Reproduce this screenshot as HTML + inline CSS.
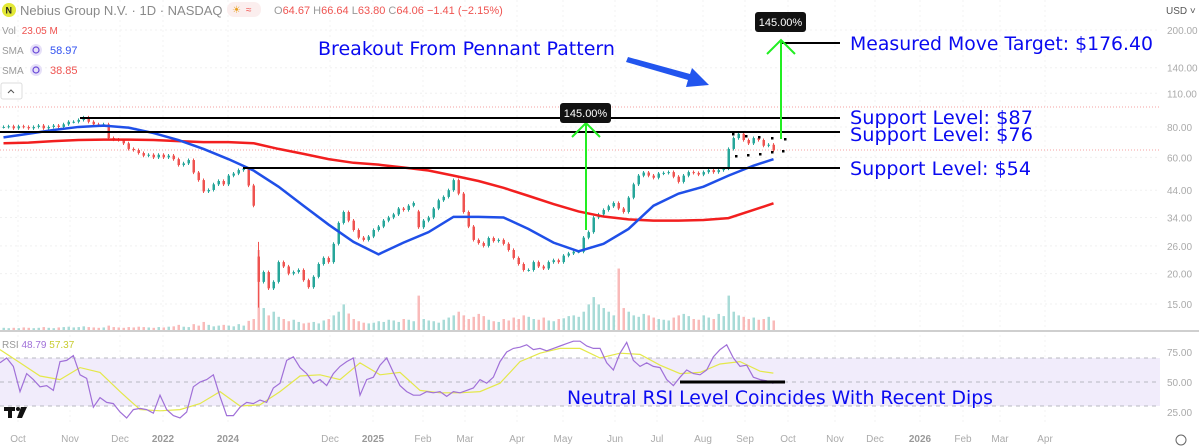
<!DOCTYPE html>
<html><head><meta charset="utf-8">
<style>
html,body{margin:0;padding:0;background:#fff;}
body{width:1199px;height:448px;overflow:hidden;font-family:"Liberation Sans",sans-serif;}
svg{display:block;}
</style></head>
<body>
<svg id="chart" width="1199" height="448" viewBox="0 0 1199 448" xmlns="http://www.w3.org/2000/svg">
  <g id="grid"></g>
  <rect x="0" y="358" width="1160" height="48" fill="#f1ecfb"/>
  <line x1="0" y1="358" x2="1160" y2="358" stroke="#b8b8c0" stroke-dasharray="4,4"/>
  <line x1="0" y1="382" x2="1160" y2="382" stroke="#b8b8c0" stroke-dasharray="4,4"/>
  <line x1="0" y1="406" x2="1160" y2="406" stroke="#b8b8c0" stroke-dasharray="4,4"/>
  <line x1="0" y1="331" x2="1199" y2="331" stroke="#cfcfcf" stroke-width="2"/>
  <line x1="0" y1="107" x2="1160" y2="107" stroke="#f4a0a0" stroke-dasharray="1,2"/>
  <line x1="0" y1="150" x2="1160" y2="150" stroke="#f4a0a0" stroke-dasharray="1,2"/>
  <g id="volume"></g>
  <g id="candles"></g>
  <polyline id="sma200" fill="none" stroke="#f21f1f" stroke-width="2.5"/>
  <polyline id="sma50" fill="none" stroke="#1f4fe8" stroke-width="2.5"/>
  <polyline id="rsiMa" fill="none" stroke="#e4e84a" stroke-width="1.2"/>
  <polyline id="rsi" fill="none" stroke="#a070d8" stroke-width="1.2"/>

  <g stroke="#000" stroke-width="2">
    <line x1="80" y1="118" x2="840" y2="118"/>
    <line x1="0" y1="132" x2="840" y2="132"/>
    <line x1="243" y1="168" x2="840" y2="168"/>
    <line x1="781" y1="43" x2="840" y2="43"/>
    <line x1="680" y1="382" x2="785" y2="382" stroke-width="3"/>
  </g>
  <g stroke="#22ee22" stroke-width="2" fill="none">
    <line x1="586" y1="230" x2="586" y2="124"/>
    <polyline points="572,137 586,123 600,137"/>
  </g>
  <g stroke="#22ee22" stroke-width="2" fill="none">
    <line x1="781" y1="139" x2="781" y2="40"/>
    <polyline points="767,54 781,40 795,54"/>
  </g>
  <g>
    <rect x="560" y="103" width="51" height="20" rx="3" fill="#111"/>
    <text x="585.5" y="117" font-size="11" fill="#fff" text-anchor="middle">145.00%</text>
  </g>
  <g>
    <rect x="755" y="12" width="51" height="20" rx="3" fill="#111"/>
    <text x="780.5" y="26" font-size="11" fill="#fff" text-anchor="middle">145.00%</text>
  </g>
  <polygon points="628,57 690,74 692,68 709,85 686,87 688,80 626,62" fill="#2255ee"/>
  <g id="pennant" fill="#000"></g>

  <g font-family="'DejaVu Sans',sans-serif" fill="#0a0af0" font-size="19">
    <text x="318" y="55" textLength="297" lengthAdjust="spacingAndGlyphs">Breakout From Pennant Pattern</text>
    <text x="850" y="50" textLength="303" lengthAdjust="spacingAndGlyphs">Measured Move Target: $176.40</text>
    <text x="850" y="124" textLength="183" lengthAdjust="spacingAndGlyphs">Support Level: $87</text>
    <text x="850" y="141" textLength="183" lengthAdjust="spacingAndGlyphs">Support Level: $76</text>
    <text x="850" y="175" textLength="181" lengthAdjust="spacingAndGlyphs">Support Level: $54</text>
    <text x="567" y="404" textLength="426" lengthAdjust="spacingAndGlyphs">Neutral RSI Level Coincides With Recent Dips</text>
  </g>

  <circle cx="9" cy="10" r="7" fill="#e2e836"/>
  <text x="5.5" y="13.5" font-size="9" font-weight="bold" fill="#222">N</text>
  <text x="20" y="15" font-size="13" fill="#8a8a8a">Nebius Group N.V. · 1D · NASDAQ</text>
  <rect x="227" y="2" width="34" height="15" rx="7" fill="#fbeeee"/>
  <text x="232" y="13" font-size="10" fill="#e8a020">☀</text><text x="246" y="13" font-size="10" fill="#ef5350">≈</text>
  <text x="274" y="14" font-size="11" fill="#ef5350"><tspan fill="#999">O</tspan>64.67 <tspan fill="#999">H</tspan>66.64 <tspan fill="#999">L</tspan>63.80 <tspan fill="#999">C</tspan>64.06 −1.41 (−2.15%)</text>
  <text x="2" y="34" font-size="10" fill="#999">Vol <tspan fill="#ef5350" dx="3">23.05 M</tspan></text>
  <text x="2" y="54" font-size="10" fill="#999">SMA</text>
  <circle cx="36" cy="50" r="6" fill="#e6e0f8"/><circle cx="36" cy="50" r="3" fill="none" stroke="#6a4ad8" stroke-width="1.2"/>
  <text x="50" y="54" font-size="11" fill="#3050f0">58.97</text>
  <text x="2" y="74" font-size="10" fill="#999">SMA</text>
  <circle cx="36" cy="70" r="6" fill="#e6e0f8"/><circle cx="36" cy="70" r="3" fill="none" stroke="#6a4ad8" stroke-width="1.2"/>
  <text x="50" y="74" font-size="11" fill="#ef5350">38.85</text>
  <rect x="1" y="83" width="21" height="16" rx="2" fill="#fff" stroke="#ddd"/>
  <polyline points="8,93 11,90 14,93" fill="none" stroke="#555"/>
  <text x="2" y="348" font-size="10" fill="#999">RSI <tspan fill="#a070d8">48.79</tspan> <tspan fill="#c8cc30">57.37</tspan></text>
  <g fill="#111">
    <rect x="4" y="407" width="11" height="4"/><rect x="8" y="407" width="4" height="11"/><circle cx="18" cy="409" r="2"/><polygon points="21,407 27,407 22,418 17,418"/>
  </g>
  <text x="1166" y="14" font-size="10" fill="#555">USD ˅</text>
  <g id="yaxis" font-size="10" fill="#aaa"></g>
  <g id="xaxis" font-size="10" fill="#aaa"></g>
  <circle cx="1181" cy="440" r="5" fill="none" stroke="#666"/>
</svg>
<script>
const closes=[80,80.5,79,80.5,80,79,80,81,79,80,81,80,82,84,84,85.5,87.5,84,82,81.5,82,72,71,70.7,68.5,65,64.3,62.5,61,61.5,60,61.5,60,61,59,55.8,56.7,58.5,52,48.4,43.5,44.1,46.5,48,46.5,50.5,51.5,53.2,54,46,38,18.5,20.3,17.4,18.5,22.3,21.4,20,20.3,20.7,18.8,17.6,19.4,21.9,23.2,22.3,26.5,32.3,35.8,33,30.2,28.1,27.5,28.4,30.2,31.2,33,34,35,37,36.5,38,39,31,33,34,37,40,41.3,44,48.4,42.6,35.8,31.2,27.5,26.7,26,28,27.2,27.5,26.5,25,23.2,21.9,20.7,20.7,22.3,21.4,21,22.3,22.7,22.3,23.7,24.2,24.6,24.6,28.1,29.6,34,35,36.5,37.8,39,37,35.8,41,46.5,50.5,52,50.5,49.5,51.5,51.8,52.2,50,47.6,50.5,52.2,51.8,51,52.2,53.2,52.2,53.2,54,65,72,75,70.7,68.5,72,70.7,67,67.6,64.06];
const gapOpens={51:23.5,83:36};
const volumes=[6,5,6,5,7,6,5,6,8,6,5,7,8,9,7,8,10,8,7,6,7,12,8,7,6,8,7,9,8,7,6,8,7,9,10,14,9,8,16,12,22,14,10,12,14,12,10,16,12,25,30,
164,60,40,50,36,30,24,28,22,18,20,22,18,26,30,40,50,70,45,30,24,20,18,20,24,22,28,26,22,30,28,24,94,30,26,24,20,28,34,40,50,40,30,36,44,38,28,24,22,30,26,34,30,40,36,30,28,34,26,24,30,32,38,40,36,50,70,90,70,60,50,40,126,60,50,40,36,44,40,34,30,28,26,34,40,44,38,30,28,40,34,30,44,38,94,50,40,36,30,34,28,30,36,26];
const sma50=[72.5,75,77.7,80,81,79.5,75.5,70.7,65,59,53,45.5,38,31.8,27,24,26.8,29.6,34.2,34.2,34,30.5,26.8,24.7,26.5,30.5,38,42.6,45.5,50.5,55.5,58.97];
const sma200=[68.6,69,70,70.7,71,71,70.7,70,69.3,69.3,68.6,65,62,59,57,56,54.5,53,50.5,48,45,41.7,38.6,36,34.3,33.4,33,33,33.2,33.8,36.5,38.85];
const rsiVals=[66,70,63,42,57,52,46,47,43,67,68,72,56,53,29,37,33,32,25,20,27,28,27,24,39,27,22,20,25,46,50,52,56,38,22,22,29,33,32,35,33,45,49,68,71,62,57,49,52,47,57,63,67,70,39,52,54,64,70,58,47,42,39,39,42,41,42,38,42,41,43,45,52,49,54,67,75,78,79,81,77,78,76,78,80,82,84,84,80,78,78,66,60,74,83,68,63,66,63,62,52,47,54,60,57,56,60,71,77,81,70,63,64,54,52,51,48.79];
const rsiMaVals=[77,66,55,52,62,58,42,27,26,27,32,42,30,31,42,55,56,52,66,56,58,43,41,41,42,49,67,74,78,78,70,74,73,64,57,58,65,67,59,57.37];
const yTicks=[200,140,110,80,60,44,34,26,20,15];
const rsiTicks=[75,50,25];
const xLabels=["Oct","Nov","Dec","2022","2024","Dec","2025","Feb","Mar","Apr","May","Jun","Jul","Aug","Sep","Oct","Nov","Dec","2026","Feb","Mar","Apr"];
const xLabelPos=[18,70,120,163,228,330,373,423,465,517,563,615,657,703,745,788,835,875,920,963,1000,1045];

const NS="http://www.w3.org/2000/svg";
function yP(p){return 30+105.8*Math.log(200/p);}
function yR(v){return 382-(v-50)*1.2;}
function xC(i){return 2+i*5;}
function xR(i){return i*6.667;}
function mk(t,a,parent){const e=document.createElementNS(NS,t);for(const k in a)e.setAttribute(k,a[k]);parent.appendChild(e);return e;}
const G=document.getElementById('grid'),C=document.getElementById('candles'),V=document.getElementById('volume');
yTicks.forEach(t=>{const l=mk('line',{x1:0,x2:1160,y1:yP(t),y2:yP(t),stroke:'#f0f0f0','stroke-dasharray':'2,3'},G);

});
xLabelPos.forEach(x=>{const l=mk('line',{x1:x,x2:x,y1:0,y2:425,stroke:'#f3f3f3','stroke-dasharray':'2,3'},G);

});
const vmax=164;
closes.forEach((c,i)=>{
  let o=i==0?c:closes[i-1];
  if(gapOpens[i]!==undefined)o=gapOpens[i];
  const up=c>=o;const col=up?'#26a69a':'#ef5350';
  let hi=Math.max(o,c)*1.015,lo=Math.min(o,c)*0.985;
  if(i==51){hi=27;lo=14.5;}
  const x=xC(i);
  const w=mk('line',{x1:x+1.5,x2:x+1.5,y1:yP(hi),y2:yP(lo),stroke:col,'stroke-width':1},C);
  
  
  const top=yP(Math.max(o,c)),bot=yP(Math.min(o,c));
  const r=mk('rect',{x:x+0.5,y:top,width:2.5,height:Math.max(1,bot-top),fill:col},C);
  
  
  const h=volumes[i]/vmax*80*(volumes[i]>100?1:0.75);
  const vb=mk('rect',{x:x+0.5,y:330-h,width:2.5,height:h,fill:up?'rgba(38,166,154,0.4)':'rgba(239,83,80,0.4)'},V);
  
  
});
document.getElementById('sma50').setAttribute('points',sma50.map((v,k)=>xC(Math.min(k*5,154))+1.5+','+yP(v)).join(' '));
document.getElementById('sma200').setAttribute('points',sma200.map((v,k)=>xC(Math.min(k*5,154))+1.5+','+yP(v)).join(' '));
document.getElementById('rsi').setAttribute('points',rsiVals.map((v,i)=>xR(i)+','+yR(v)).join(' '));
document.getElementById('rsiMa').setAttribute('points',rsiMaVals.map((v,k)=>xR(Math.min(k*3,116))+','+yR(v)).join(' '));
const P=document.getElementById('pennant');
[[732,133],[745,135],[758,136],[771,137],[784,138],[735,155],[747,154],[759,153],[771,151],[782,150]].forEach(d=>{const e=mk('rect',{x:d[0],y:d[1],width:2.5,height:2.5},P);

});
const YA=document.getElementById('yaxis');
yTicks.forEach(t=>{const e=mk('text',{x:1167,y:yP(t)+4},YA);e.textContent=t.toFixed(2);

});
rsiTicks.forEach(t=>{const e=mk('text',{x:1167,y:382-(t-50)*1.2+4},YA);e.textContent=t.toFixed(2);

});
const XA=document.getElementById('xaxis');
xLabels.forEach((l,i)=>{const e=mk('text',{x:xLabelPos[i],y:442,'text-anchor':'middle'},XA);e.textContent=l;
if(/^\d+$/.test(l)){e.setAttribute('font-weight','bold');e.setAttribute('fill','#999');}

});
</script>
</body></html>
